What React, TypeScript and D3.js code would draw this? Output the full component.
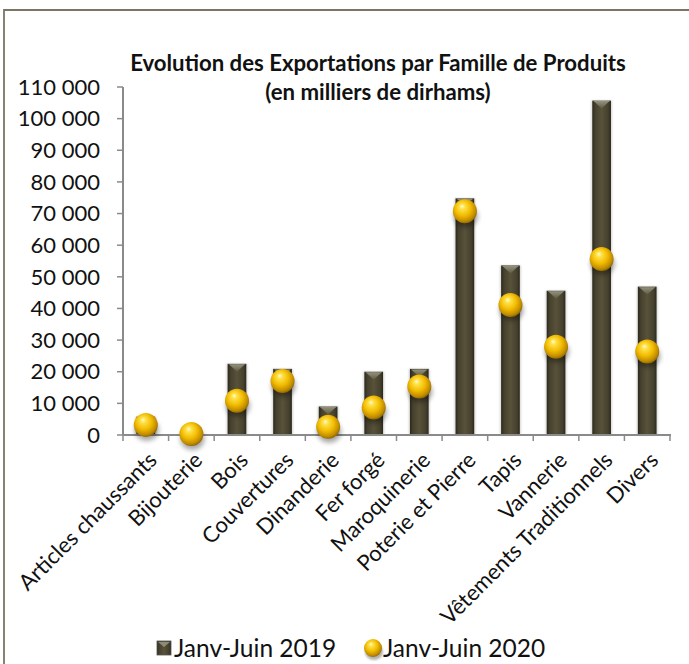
import React from "react";
import * as d3 from "d3";

const categories = [
  "Articles chaussants",
  "Bijouterie",
  "Bois",
  "Couvertures",
  "Dinanderie",
  "Fer forgé",
  "Maroquinerie",
  "Poterie et Pierre",
  "Tapis",
  "Vannerie",
  "Vêtements Traditionnels",
  "Divers",
];
const values2019 = [5800, 400, 22500, 20900, 9000, 20000, 20900, 74800, 53600, 45600, 105700, 46900];
const values2020 = [3200, 300, 10800, 17100, 2600, 8700, 15300, 70700, 41100, 27900, 55600, 26400];
const yTicks = [0, 10000, 20000, 30000, 40000, 50000, 60000, 70000, 80000, 90000, 100000, 110000];
const seriesNames = ["Janv-Juin 2019", "Janv-Juin 2020"];
const titleLines = ["Evolution des Exportations par Famille de Produits", "(en milliers de dirhams)"];

const W = 689;
const H = 664;
const FONT = "Lato, 'Open Sans', sans-serif";

export default function App() {
  const x = d3.scaleBand<string>().domain(categories).range([123, 670]).padding(0);
  const y = d3.scaleLinear().domain([0, 110000]).range([435, 87]);
  const bw = x.bandwidth() * 0.41;
  const fmt = (v: number) => d3.format(",")(v).replace(/,/g, " ");
  const r = 12;

  return (
    <svg width={W} height={H} style={{ position: "absolute", left: 0, top: 0, background: "#fff" }}>
      <defs>
        <linearGradient id="barBody" x1="0" x2="1" y1="0" y2="0">
          <stop offset="0%" stopColor="#2b281c" />
          <stop offset="15%" stopColor="#45402d" />
          <stop offset="50%" stopColor="#58523a" />
          <stop offset="85%" stopColor="#45402d" />
          <stop offset="100%" stopColor="#2b281c" />
        </linearGradient>
        <linearGradient id="capGrad" x1="0" x2="0" y1="0" y2="1">
          <stop offset="0%" stopColor="#9c9a86" />
          <stop offset="100%" stopColor="#5d5944" />
        </linearGradient>
        <radialGradient id="ballGrad" cx="45%" cy="42%" r="60%" fx="38%" fy="28%">
          <stop offset="0%" stopColor="#fffbd6" />
          <stop offset="18%" stopColor="#ffe24a" />
          <stop offset="55%" stopColor="#f2bb00" />
          <stop offset="85%" stopColor="#c08c00" />
          <stop offset="100%" stopColor="#8a6200" />
        </radialGradient>
        <filter id="blur3" x="-50%" y="-50%" width="200%" height="200%">
          <feGaussianBlur stdDeviation="2.5" />
        </filter>
        <filter id="blur1" x="-50%" y="-50%" width="200%" height="200%">
          <feGaussianBlur stdDeviation="1.2" />
        </filter>
        <clipPath id="frameClip">
          <rect x={20} y={10} width={W} height={H} />
        </clipPath>
      </defs>

      {/* frame */}
      <path d={`M4,${H + 2} L4,10 L${W + 2},10`} fill="none" stroke="#7b7562" strokeWidth={1.8} />

      {/* title */}
      {titleLines.map((t, i) => (
        <text
          key={i}
          x={378}
          y={71 + i * 29}
          textAnchor="middle"
          fontFamily={FONT}
          fontWeight="bold"
          fontSize={22.2}
          fill="#111"
        >
          {t}
        </text>
      ))}

      {/* y axis */}
      <line x1={123} x2={123} y1={y(110000)} y2={y(0)} stroke="#8a8a8a" strokeWidth={2} />
      {yTicks.map((t) => (
        <g key={t}>
          <line x1={117} x2={123} y1={y(t)} y2={y(t)} stroke="#8a8a8a" strokeWidth={1.5} />
          <text
            x={100}
            y={y(t)}
            dy="0.35em"
            textAnchor="end"
            fontFamily={FONT}
            fontSize={22}
            fill="#111"
          >
            {fmt(t)}
          </text>
        </g>
      ))}

      {/* bars */}
      {categories.map((c, i) => {
        const cx = (x(c) as number) + x.bandwidth() / 2;
        const top = y(values2019[i]);
        const h = y(0) - top;
        const capH = Math.min(8, h);
        return (
          <g key={c}>
            <rect x={cx - bw / 2 - 1} y={top} width={bw + 2} height={h} fill="#000" opacity={0.18} filter="url(#blur1)" />
            <rect x={cx - bw / 2} y={top} width={bw} height={h} fill="url(#barBody)" />
            {h > 3 && (
              <path
                d={`M${cx - bw / 2 + 1},${top + 0.5} L${cx + bw / 2 - 1},${top + 0.5} L${cx + bw / 2 - 3},${top + 2} L${cx},${top + capH} L${cx - bw / 2 + 3},${top + 2} Z`}
                fill="url(#capGrad)"
                opacity={0.9}
              />
            )}
          </g>
        );
      })}

      {/* x axis */}
      <line x1={123} x2={671} y1={y(0)} y2={y(0)} stroke="#8a8a8a" strokeWidth={2} />
      {d3.range(categories.length + 1).map((k) => {
        const xx = 123 + k * x.step();
        return <line key={k} x1={xx} x2={xx} y1={y(0)} y2={y(0) + 6} stroke="#8a8a8a" strokeWidth={1.5} />;
      })}

      {/* balls */}
      {categories.map((c, i) => {
        const cx = (x(c) as number) + x.bandwidth() / 2;
        const cy = y(values2020[i]);
        return (
          <g key={c}>
            <ellipse cx={cx + 1} cy={cy + 5} rx={r} ry={r * 0.9} fill="#000" opacity={0.35} filter="url(#blur3)" />
            <circle cx={cx} cy={cy} r={r} fill="url(#ballGrad)" />
          </g>
        );
      })}

      {/* x labels */}
      <g clipPath="url(#frameClip)">
        {categories.map((c) => {
          const cx = (x(c) as number) + x.bandwidth() / 2;
          return (
            <text
              key={c}
              transform={`translate(${cx + 7},${456}) rotate(-45)`}
              textAnchor="end"
              dy="0.35em"
              fontFamily={FONT}
              fontSize={22}
              fill="#111"
            >
              {c}
            </text>
          );
        })}
      </g>

      {/* legend */}
      <g>
        <rect x={157} y={641} width={14} height={14} fill="url(#barBody)" stroke="#555" strokeWidth={0.8} />
        <path d={`M158,642 L170,642 L164,647 Z`} fill="#9c9a86" opacity={0.8} />
        <text x={174} y={657} fontFamily={FONT} fontSize={24.5} fill="#111">
          {seriesNames[0]}
        </text>
        <ellipse cx={374} cy={652} rx={9} ry={8} fill="#000" opacity={0.3} filter="url(#blur1)" />
        <circle cx={373} cy={648} r={9} fill="url(#ballGrad)" />
        <text x={383} y={657} fontFamily={FONT} fontSize={24.5} fill="#111">
          {seriesNames[1]}
        </text>
      </g>
    </svg>
  );
}
